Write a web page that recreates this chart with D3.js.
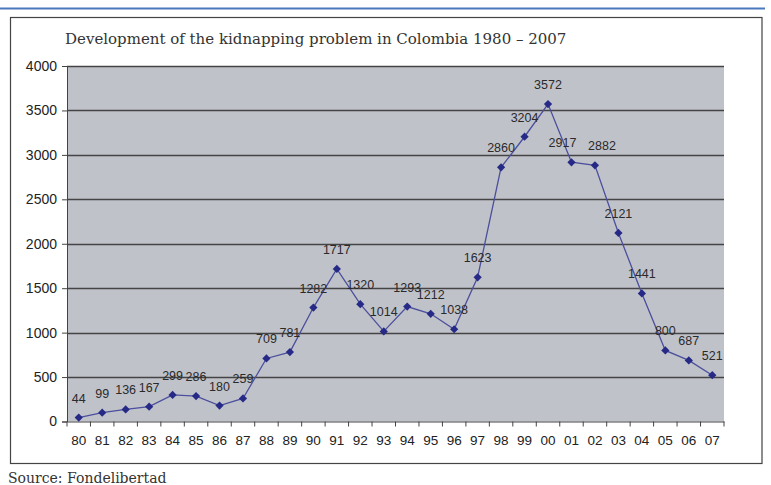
<!DOCTYPE html>
<html><head><meta charset="utf-8">
<script src="https://cdn.jsdelivr.net/npm/d3@7"></script>
<style>html,body{margin:0;padding:0;background:#fff;overflow:hidden}</style>
</head><body>
<svg id="c" width="771" height="485"></svg>
<script>
const years = ["80","81","82","83","84","85","86","87","88","89","90","91","92","93","94","95","96","97","98","99","00","01","02","03","04","05","06","07"];
const kidnappings = [44,99,136,167,299,286,180,259,709,781,1282,1717,1320,1014,1293,1212,1038,1623,2860,3204,3572,2917,2882,2121,1441,800,687,521];
const yTicks = [0,500,1000,1500,2000,2500,3000,3500,4000];
const title = "Development of the kidnapping problem in Colombia 1980 – 2007";
const source = "Source: Fondelibertad";

const svg = d3.select("#c");
svg.append("line").attr("x1",0).attr("x2",765).attr("y1",8.5).attr("y2",8.5)
  .attr("stroke","#4a78bd").attr("stroke-width",2);
svg.append("rect").attr("x",10.5).attr("y",17.5).attr("width",751.5).attr("height",446)
  .attr("fill","#fff").attr("stroke","#444").attr("stroke-width",1.2);

svg.append("text").attr("x",65).attr("y",44).text(title)
  .attr("font-family","DejaVu Serif").attr("font-size",15).attr("fill","#333");

const m = {l:67, r:724, t:66, b:421.5};
const x = d3.scaleBand().domain(years).range([m.l,m.r]);
const y = d3.scaleLinear().domain([0,4000]).range([m.b,m.t]);

svg.append("rect").attr("x",m.l).attr("y",m.t).attr("width",m.r-m.l).attr("height",m.b-m.t)
  .attr("fill","#c0c2ca");

svg.append("g").selectAll("line").data(yTicks.slice(1)).join("line")
  .attr("x1",m.l).attr("x2",m.r).attr("y1",d=>Math.round(y(d))+0.5).attr("y2",d=>Math.round(y(d))+0.5)
  .attr("stroke","#444").attr("stroke-width",1.3);

const ya = svg.append("g").attr("transform",`translate(${m.l},0)`)
  .call(d3.axisLeft(y).tickValues(yTicks).tickSize(5).tickPadding(5).tickFormat(d3.format("d")));
ya.select(".domain").attr("stroke","#444");
ya.selectAll(".tick line").attr("stroke","#444");
ya.selectAll("text").attr("font-family","Liberation Sans, Arial").attr("font-size",14).attr("fill","#222");

const xa = svg.append("g").attr("transform",`translate(0,${m.b})`)
  .call(d3.axisBottom(x).tickSize(0).tickPadding(14));
xa.select(".domain").attr("stroke","#444");
xa.selectAll("text").attr("font-family","Liberation Sans, Arial").attr("font-size",13.5).attr("fill","#222");
const bounds = years.map(d=>x(d)).concat([x(years[years.length-1])+x.bandwidth()]);
xa.selectAll(".bt").data(bounds).join("line").attr("class","bt")
  .attr("x1",d=>d).attr("x2",d=>d).attr("y1",0).attr("y2",5).attr("stroke","#444");

const cx = d=>x(d)+x.bandwidth()/2;
const data = years.map((yr,i)=>({yr, v:kidnappings[i]}));

svg.append("path").datum(data)
  .attr("d", d3.line().x(d=>cx(d.yr)).y(d=>y(d.v)))
  .attr("fill","none").attr("stroke","#4b4f9c").attr("stroke-width",1.3);

svg.append("g").selectAll("path").data(data).join("path")
  .attr("transform",d=>`translate(${cx(d.yr)},${y(d.v)}) rotate(45)`)
  .attr("d", d3.symbol().type(d3.symbolSquare).size(34))
  .attr("fill","#262a86");

const nudge = {"01":-9,"02":7};
svg.append("g").selectAll("text").data(data).join("text")
  .attr("x",d=>cx(d.yr)+(nudge[d.yr]||0)).attr("y",d=>y(d.v)-15)
  .attr("text-anchor","middle").text(d=>d.v)
  .attr("font-family","Liberation Sans, Arial").attr("font-size",12.5).attr("fill","#2a2a2a");

svg.append("text").attr("x",8).attr("y",483).text(source)
  .attr("font-family","DejaVu Serif").attr("font-size",14).attr("fill","#333");
</script>
</body></html>
